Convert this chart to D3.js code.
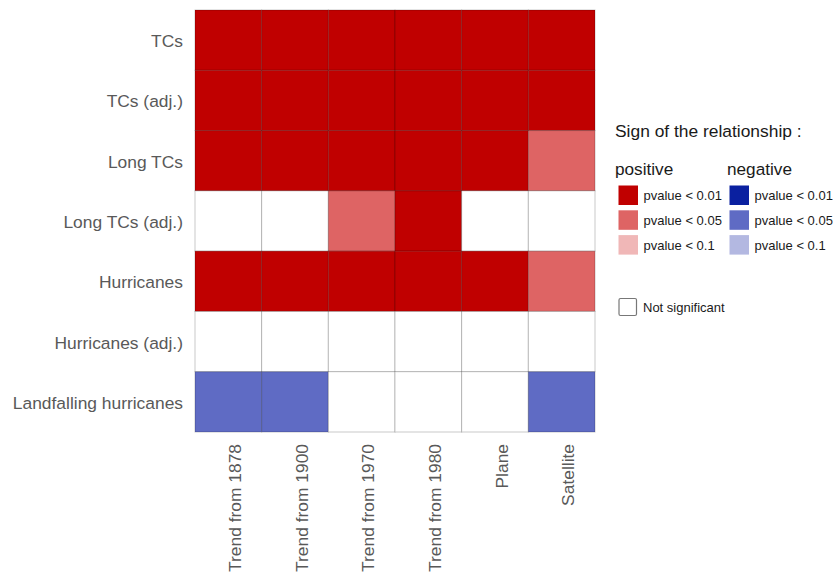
<!DOCTYPE html>
<html>
<head>
<meta charset="utf-8">
<script src="https://cdn.jsdelivr.net/npm/d3@7"></script>
<style>
  html, body { margin: 0; padding: 0; background: #fff; }
  svg { display: block; font-family: "Liberation Sans", Arial, sans-serif; }
</style>
</head>
<body>
<svg id="chart" width="838" height="573"></svg>
<script>
// Rows (series) and columns (trend periods / observing eras)
const rows = ["TCs", "TCs (adj.)", "Long TCs", "Long TCs (adj.)", "Hurricanes", "Hurricanes (adj.)", "Landfalling hurricanes"];
const columns = ["Trend from 1878", "Trend from 1900", "Trend from 1970", "Trend from 1980", "Plane", "Satellite"];

// Significance class per cell: "+01" positive p<0.01, "+05" positive p<0.05, "+1" positive p<0.1,
// "-01"/"-05"/"-1" the same for negative relationships, "ns" not significant
const signTCs            = ["+01", "+01", "+01", "+01", "+01", "+01"];
const signTCsAdj         = ["+01", "+01", "+01", "+01", "+01", "+01"];
const signLongTCs        = ["+01", "+01", "+01", "+01", "+01", "+05"];
const signLongTCsAdj     = ["ns",  "ns",  "+05", "+01", "ns",  "ns"];
const signHurricanes     = ["+01", "+01", "+01", "+01", "+01", "+05"];
const signHurricanesAdj  = ["ns",  "ns",  "ns",  "ns",  "ns",  "ns"];
const signLandfalling    = ["-05", "-05", "ns",  "ns",  "ns",  "-05"];
const signMatrix = [signTCs, signTCsAdj, signLongTCs, signLongTCsAdj, signHurricanes, signHurricanesAdj, signLandfalling];

// Legend entries
const classes = ["+01", "+05", "+1", "-01", "-05", "-1", "ns"];
const classColors = ["#c00000", "#de6464", "#f0b7b7", "#0a20a0", "#5f6bc4", "#b3b8e1", "#ffffff"];
const pvalueLabels = ["pvalue < 0.01", "pvalue < 0.05", "pvalue < 0.1"];

const color = d3.scaleOrdinal().domain(classes).range(classColors);

const svg = d3.select("#chart");
const grid = { left: 195, top: 10, width: 400, height: 422 };
const labelSize = 17.4;

const x = d3.scaleBand().domain(columns).range([grid.left, grid.left + grid.width]).padding(0);
const y = d3.scaleBand().domain(rows).range([grid.top, grid.top + grid.height]).padding(0);

const cells = [];
rows.forEach((r, i) => columns.forEach((c, j) => cells.push({ row: r, col: c, sign: signMatrix[i][j] })));

svg.append("g").selectAll("rect")
  .data(cells)
  .join("rect")
  .attr("x", d => x(d.col))
  .attr("y", d => y(d.row))
  .attr("width", x.bandwidth())
  .attr("height", y.bandwidth())
  .attr("fill", d => color(d.sign))
  .attr("stroke", "rgba(0,0,0,0.21)")
  .attr("stroke-width", 1);

// Row labels
const yAxis = svg.append("g")
  .attr("transform", `translate(${grid.left},0)`)
  .call(d3.axisLeft(y).tickSize(0).tickPadding(12));
yAxis.select(".domain").remove();
yAxis.selectAll("text")
  .attr("font-size", labelSize)
  .attr("font-family", "Liberation Sans, Arial, sans-serif")
  .attr("fill", "#595959")
  .attr("dy", "0.4em");

// Column labels, rotated; baseline sits just right of each column centre
const xAxis = svg.append("g")
  .attr("transform", `translate(0,${grid.top + grid.height})`)
  .call(d3.axisBottom(x).tickSize(0).tickPadding(0));
xAxis.select(".domain").remove();
xAxis.selectAll("text")
  .attr("font-size", labelSize)
  .attr("font-family", "Liberation Sans, Arial, sans-serif")
  .attr("fill", "#595959")
  .attr("transform", "rotate(-90)")
  .attr("text-anchor", "end")
  .attr("x", -12)
  .attr("y", 0)
  .attr("dy", "0.72em");

// Legend
const legend = svg.append("g").attr("font-family", "Liberation Sans, Arial, sans-serif");
legend.append("text").attr("x", 615).attr("y", 137).attr("font-size", labelSize).attr("fill", "#1a1a1a")
  .text("Sign of the relationship :");

const groups = [
  { title: "positive", x: 615, sqX: 618.5, codes: ["+01", "+05", "+1"] },
  { title: "negative", x: 727, sqX: 729.5, codes: ["-01", "-05", "-1"] }
];
groups.forEach(g => {
  legend.append("text").attr("x", g.x).attr("y", 175).attr("font-size", 17.2).attr("fill", "#1a1a1a").text(g.title);
  g.codes.forEach((code, k) => {
    legend.append("rect")
      .attr("x", g.sqX).attr("y", 185.5 + k * 24.8)
      .attr("width", 19.5).attr("height", 19.5)
      .attr("fill", color(code));
    legend.append("text")
      .attr("x", g.sqX + 25).attr("y", 195.5 + k * 24.8).attr("dy", "0.35em")
      .attr("font-size", 13).attr("fill", "#1a1a1a")
      .text(pvalueLabels[k]);
  });
});

legend.append("rect")
  .attr("x", 619).attr("y", 298.5).attr("width", 17.5).attr("height", 17)
  .attr("rx", 1.5)
  .attr("fill", color("ns")).attr("stroke", "#777").attr("stroke-width", 1.2);
legend.append("text").attr("x", 643).attr("y", 307).attr("dy", "0.35em")
  .attr("font-size", 13).attr("fill", "#1a1a1a").text("Not significant");
</script>
</body>
</html>
